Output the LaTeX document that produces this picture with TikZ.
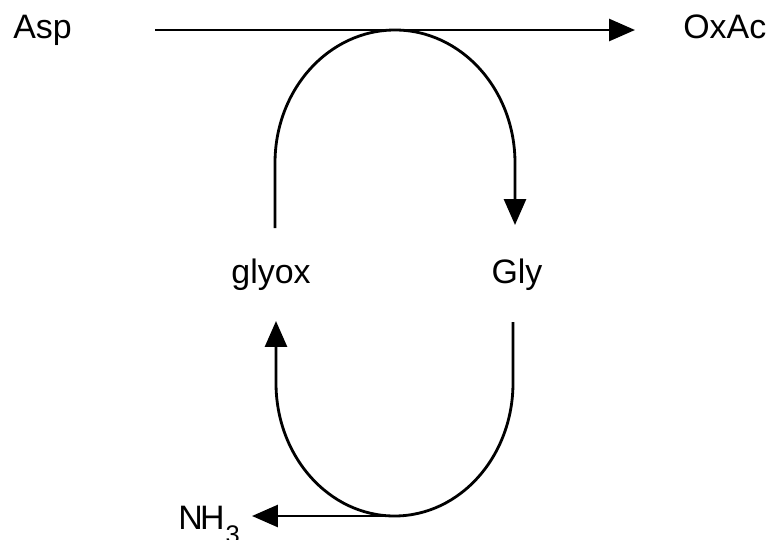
\documentclass[tikz,border=0pt]{standalone}
\usepackage{fontspec}
\setmainfont{Liberation Sans}
\usepackage{tikz}
\usetikzlibrary{arrows.meta}

\begin{document}
\begin{tikzpicture}[x=0.02cm,y=0.02cm]
		\tikzset{rxn/.style={line width=1.6pt,-{Triangle[length=0.52cm,width=0.44cm]}}};
		\tikzset{lbl/.style={inner sep=0pt,font=\fontsize{19.3}{23}\selectfont}};
		\useasboundingbox (0,0) rectangle (768,539);
		\node[lbl,anchor=base west] (asp) at (13,501) {Asp};
		\node[lbl,anchor=base west] (oxac) at (683,501) {OxAc};
		\node[lbl,anchor=base] (glyox) at (271,256) {glyox};
		\node[lbl,anchor=base] (gly) at (517,256) {Gly};
		\node[lbl,anchor=base west] (nh3) at (178,10) {N\kern-1.5ptH\kern0.5pt\raisebox{-8pt}{\fontsize{14.5}{17}\selectfont 3}};
		
		\coordinate (aspout) at (155,509);
		\coordinate (oxacin) at (635,509);
		\coordinate (glyoxout) at (275,311);
		\coordinate (glyin) at (515,314);
		\coordinate (glyout) at (513,217);
		\coordinate (glyoxin) at (276,218);
		\coordinate (nh3out) at (394,23);
		\coordinate (nh3in) at (252,23);
		
		\draw[rxn] (aspout) -- (oxacin);
		\draw[rxn] (glyoxout) -- ++(0,65) arc[start angle=180,end angle=0,x radius=120,y radius=133] -- (glyin);
		\draw[rxn] (glyout) -- ++(0,-61) arc[start angle=0,end angle=-180,x radius=118.5,y radius=133] -- (glyoxin);
		\draw[rxn] (nh3out) -- (nh3in);
		
	\end{tikzpicture}
\end{document}
